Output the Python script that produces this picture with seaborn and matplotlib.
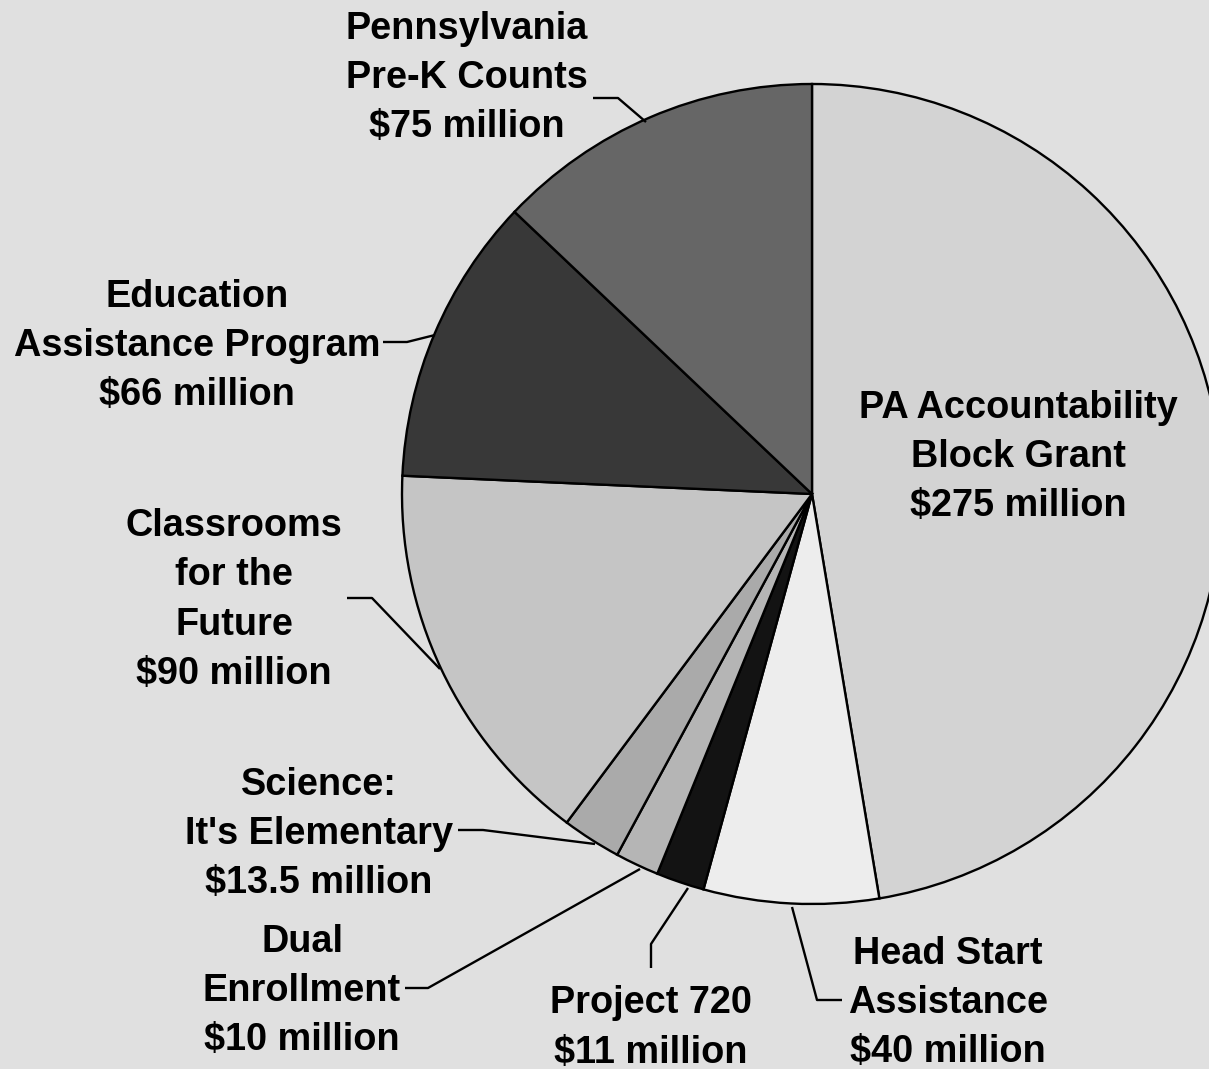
import matplotlib
matplotlib.use("Agg")
import matplotlib.pyplot as plt
import seaborn as sns

# program funding, clockwise from 12 o'clock
programs = ["PA Accountability\nBlock Grant", "Head Start\nAssistance", "Project 720",
            "Dual\nEnrollment", "Science:\nIt's Elementary", "Classrooms\nfor the\nFuture",
            "Education\nAssistance Program", "Pennsylvania\nPre-K Counts"]
amounts = [275, 40, 11, 10, 13.5, 90, 66, 75]
amount_text = ["$275 million", "$40 million", "$11 million", "$10 million",
               "$13.5 million", "$90 million", "$66 million", "$75 million"]
grays = ["#d3d3d3", "#ededed", "#131313", "#b5b5b5", "#aaaaaa", "#c5c5c5", "#383838", "#666666"]

H = 1069  # figure height in px, used to flip y so coords read like the image

# label centres (image px) and leader polylines
label_pos = [(1018, 457), (948, 1003), (651, 1028), (302, 991),
             (319, 834), (234, 600), (197, 346), (467, 78)]
leaders = [
    None,
    [(792, 907), (817, 1000), (842, 1000)],
    [(688, 888), (651, 944), (651, 968)],
    [(640, 869), (428, 988), (405, 988)],
    [(595, 844), (483, 830), (458, 830)],
    [(440, 669), (372, 598), (347, 598)],
    [(435, 335), (407, 342), (383, 342)],
    [(646, 122), (618, 98), (593, 98)],
]

sns.set_theme(style="white")
plt.rcParams["font.family"] = ["Liberation Sans", "DejaVu Sans"]

fig = plt.figure(figsize=(12.09, 10.69), dpi=100)
fig.patch.set_facecolor("#e0e0e0")
ax = fig.add_axes([0, 0, 1, 1])
ax.set_facecolor("#e0e0e0")

ax.pie(amounts, colors=grays, startangle=90, counterclock=False,
       center=(812, H - 494), radius=410, frame=True,
       wedgeprops=dict(edgecolor="black", linewidth=1.7))
ax.set_xlim(0, 1209)
ax.set_ylim(0, H)
ax.set_aspect("equal")
ax.axis("off")

for name, amt, (x, y), pts in zip(programs, amount_text, label_pos, leaders):
    ax.text(x, H - y, name + "\n" + amt, ha="center", va="center",
            fontsize=27.3, fontweight="bold", linespacing=1.47, color="black")
    if pts:
        ax.plot([p[0] for p in pts], [H - p[1] for p in pts],
                color="black", linewidth=1.7, solid_capstyle="butt")

fig.savefig("out.png", dpi=100, facecolor=fig.get_facecolor())
